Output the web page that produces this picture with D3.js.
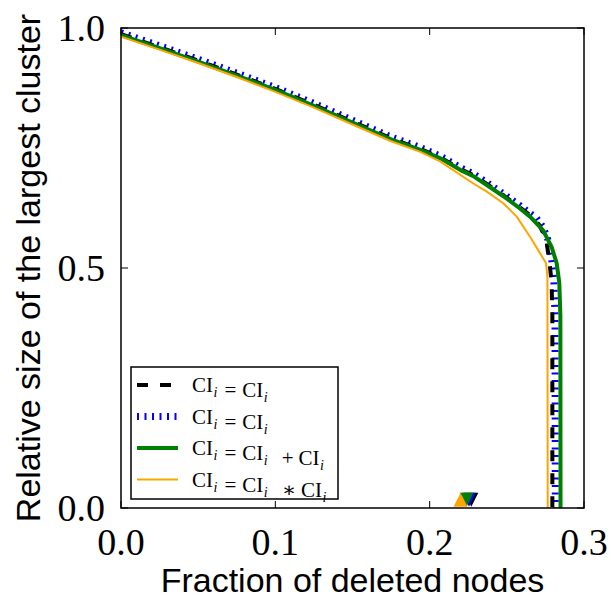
<!DOCTYPE html>
<html>
<head>
<meta charset="utf-8">
<script src="https://cdn.jsdelivr.net/npm/d3@7"></script>
<style>
  body { margin: 0; background: #fff; }
  svg text { white-space: pre; }
</style>
</head>
<body>
<div id="chart"></div>
<script>
// fraction of deleted nodes / relative size of largest cluster, per strategy
var xDashed = [0, 0.025, 0.05, 0.075, 0.1, 0.125, 0.15, 0.175, 0.194, 0.207, 0.22, 0.229, 0.237, 0.248, 0.2585, 0.265, 0.271, 0.2755, 0.2777, 0.279, 0.2795, 0.2795];
var yDashed = [0.987, 0.960, 0.932, 0.903, 0.873, 0.840, 0.805, 0.770, 0.748, 0.730, 0.706, 0.692, 0.675, 0.651, 0.626, 0.610, 0.590, 0.560, 0.510, 0.470, 0.40, 0];

var xDotted = [0, 0.025, 0.05, 0.075, 0.1, 0.125, 0.15, 0.175, 0.194, 0.207, 0.22, 0.229, 0.237, 0.248, 0.2585, 0.2645, 0.2693, 0.2735, 0.2765, 0.279, 0.2805, 0.2812, 0.2814];
var yDotted = [0.990, 0.963, 0.935, 0.906, 0.876, 0.843, 0.808, 0.773, 0.751, 0.733, 0.709, 0.695, 0.678, 0.654, 0.630, 0.615, 0.6035, 0.585, 0.560, 0.520, 0.470, 0.40, 0];

var xSum = [0, 0.025, 0.05, 0.075, 0.1, 0.125, 0.15, 0.175, 0.194, 0.207, 0.22, 0.229, 0.237, 0.248, 0.2585, 0.265, 0.2734, 0.279, 0.2823, 0.284, 0.2847, 0.2848];
var ySum = [0.985, 0.958, 0.930, 0.901, 0.871, 0.838, 0.803, 0.768, 0.746, 0.7285, 0.704, 0.690, 0.673, 0.649, 0.624, 0.607, 0.579, 0.544, 0.510, 0.469, 0.40, 0];

var xProd = [0, 0.025, 0.05, 0.075, 0.1, 0.125, 0.15, 0.175, 0.194, 0.2067, 0.2153, 0.2283, 0.237, 0.2477, 0.2564, 0.265, 0.2715, 0.2754, 0.2763, 0.2765];
var yProd = [0.982, 0.955, 0.927, 0.898, 0.867, 0.834, 0.799, 0.764, 0.742, 0.722, 0.704, 0.676, 0.659, 0.635, 0.607, 0.565, 0.531, 0.510, 0.480, 0];

// single markers sitting on the x axis
var markerX = [0.227, 0.2255, 0.2239, 0.2200];
var markerY = [0.017, 0.017, 0.017, 0.017];

var xTicks = [0.0, 0.1, 0.2, 0.3];
var yTicks = [0.0, 0.5, 1.0];
var legendLabels = ["CI_i = CI_i", "CI_i = CI_i", "CI_i = CI_i + CI_i", "CI_i = CI_i * CI_i"];

// set the dimensions and margins of the graph
var margin = {top: 28, right: 27, bottom: 90, left: 121},
  width = 611 - margin.left - margin.right,
  height = 598 - margin.top - margin.bottom;

var svg = d3.select("#chart")
  .append("svg")
  .attr("width", 611)
  .attr("height", 598);

var g = svg.append("g")
  .attr("transform", "translate(" + margin.left + "," + margin.top + ")");

var x = d3.scaleLinear().domain([0, 0.3]).range([0, width]);
var y = d3.scaleLinear().domain([0, 1]).range([height, 0]);

g.append("clipPath").attr("id", "clip")
  .append("rect").attr("width", width).attr("height", height);

var line = d3.line()
  .x(function(d){ return x(d[0]) })
  .y(function(d){ return y(d[1]) });

function pairs(xs, ys) {
  return xs.map(function(v, i){ return [v, ys[i]] });
}

var series = [
  {xs: xDotted, ys: yDotted, color: "#0000ff", w: 7, dash: "2,5.5"},
  {xs: xDashed, ys: yDashed, color: "#000000", w: 4, dash: "11,12"},
  {xs: xSum, ys: ySum, color: "#008000", w: 4, dash: null},
  {xs: xProd, ys: yProd, color: "#ffa500", w: 2, dash: null}
];

var plot = g.append("g").attr("clip-path", "url(#clip)");

series.forEach(function(s){
  plot.append("path")
    .datum(pairs(s.xs, s.ys))
    .attr("d", line)
    .attr("fill", "none")
    .attr("stroke", s.color)
    .attr("stroke-width", s.w)
    .attr("stroke-dasharray", s.dash)
    .attr("stroke-linejoin", "round");
});

// markers: black, blue, green point down, orange points up
var markerColors = ["#000000", "#0000ff", "#008000", "#ffa500"];
var down = "M-7,-7L7,-7L0,7Z", up = "M0,-7L7,7L-7,7Z";
[0, 1, 2, 3].forEach(function(i){
  g.append("path")
    .attr("d", i == 3 ? up : down)
    .attr("transform", "translate(" + x(markerX[i]) + "," + y(markerY[i]) + ")")
    .attr("fill", markerColors[i]);
});

// frame and ticks (inside, on all sides)
g.append("rect")
  .attr("width", width).attr("height", height)
  .attr("fill", "none").attr("stroke", "black").attr("stroke-width", 1.5);

var tickFont = "'Liberation Serif', 'DejaVu Serif', serif";
var tickLen = 7;
xTicks.forEach(function(t){
  g.append("line").attr("x1", x(t)).attr("x2", x(t)).attr("y1", height).attr("y2", height - tickLen).attr("stroke", "black");
  g.append("line").attr("x1", x(t)).attr("x2", x(t)).attr("y1", 0).attr("y2", tickLen).attr("stroke", "black");
  g.append("text")
    .attr("x", x(t)).attr("y", height + 47)
    .attr("text-anchor", "middle")
    .style("font-family", tickFont).style("font-size", "38px")
    .text(d3.format(".1f")(t));
});
yTicks.forEach(function(t){
  g.append("line").attr("x1", 0).attr("x2", tickLen).attr("y1", y(t)).attr("y2", y(t)).attr("stroke", "black");
  g.append("line").attr("x1", width).attr("x2", width - tickLen).attr("y1", y(t)).attr("y2", y(t)).attr("stroke", "black");
  g.append("text")
    .attr("x", -16).attr("y", y(t) + 13)
    .attr("text-anchor", "end")
    .style("font-family", tickFont).style("font-size", "38px")
    .text(d3.format(".1f")(t));
});

// axis titles
svg.append("text")
  .attr("x", margin.left + width / 2).attr("y", 592)
  .attr("text-anchor", "middle")
  .style("font-family", "'Liberation Sans', Arial, sans-serif").style("font-size", "34px")
  .text("Fraction of deleted nodes");
svg.append("text")
  .attr("transform", "translate(40," + (margin.top + height / 2) + ") rotate(-90)")
  .attr("text-anchor", "middle")
  .style("font-family", "'Liberation Sans', Arial, sans-serif").style("font-size", "34px")
  .text("Relative size of the largest cluster");

// legend
var legend = svg.append("g").attr("transform", "translate(131,367)");
legend.append("rect")
  .attr("width", 207).attr("height", 132)
  .attr("fill", "white").attr("stroke", "black").attr("stroke-width", 1.5);

var legendOrder = [1, 0, 2, 3]; // dashed, dotted, sum, product
legendOrder.forEach(function(si, row){
  var s = series[si];
  var ly = 18 + row * 31.5;
  legend.append("line")
    .attr("x1", 6).attr("x2", 47).attr("y1", ly).attr("y2", ly)
    .attr("stroke", s.color).attr("stroke-width", s.w)
    .attr("stroke-dasharray", s.dash);

  var txt = legend.append("text")
    .attr("x", 61).attr("y", ly + 7)
    .style("font-family", tickFont).style("font-size", "21px");
  // tex-like layout: CI with italic subscript, spaced operators
  var tokens = legendLabels[row].split(" ");
  tokens.forEach(function(tok, k){
    if (tok == "CI_i") {
      txt.append("tspan").attr("dx", k == 0 ? 0 : (tokens[k - 1] == "=" ? 6 : 5)).text("CI");
      txt.append("tspan").attr("dy", 5).attr("dx", 0.5).style("font-size", "14px").style("font-style", "italic").text("i");
      txt.append("tspan").attr("dy", -5).text("");
    } else if (tok == "=") {
      txt.append("tspan").attr("dx", 7).text("=");
    } else {
      txt.append("tspan").attr("dx", 14).text(tok == "*" ? "\u2217" : tok);
    }
  });
});
</script>
</body>
</html>
